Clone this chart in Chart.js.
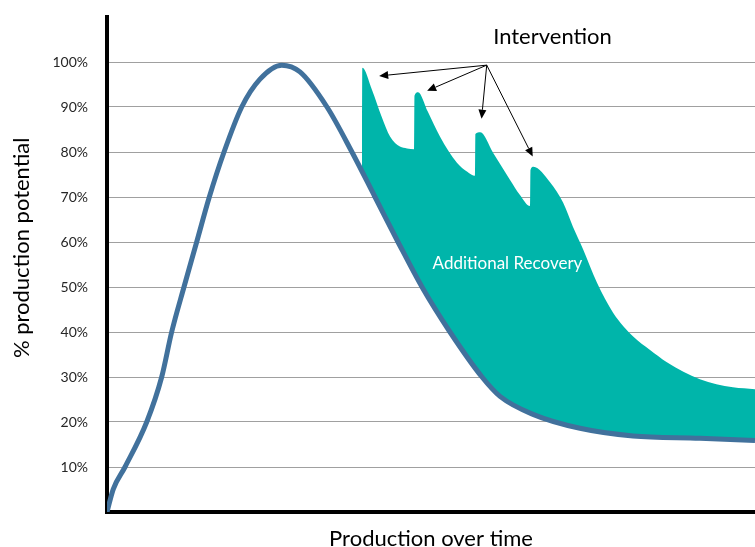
<!DOCTYPE html>
<html lang="en">
<head>
    <meta charset="UTF-8">
    <title>Production potential</title>
    <style>
        body {
            margin: 0;
            background: #fff;
        }

        #wrap {
            width: 755px;
            height: 547px;
        }
    </style>
</head>
<body>
    <div id="wrap"><canvas id="productionChart"></canvas></div>

    <script src="https://cdn.jsdelivr.net/npm/chart.js"></script>
    <script>
        // base decline curve (time 0-100, % of production potential)
        const baseTime = [0, 0.97, 2.78, 6.13, 8.44, 9.98, 11.88, 13.84, 15.79, 18.06, 20.79, 23.61, 26.96, 29.78, 33.95, 37.8, 41.36, 44.91, 48.61, 52.93, 57.87, 60.65, 65.74, 72.99, 81.17, 91.51, 100];
        const basePct = [0, 5.1, 10, 20, 30, 40, 50, 60, 70, 80, 90, 96.2, 99.3, 97.8, 90, 80, 70, 60, 50, 40, 30, 25.7, 21.7, 18.6, 16.9, 16.4, 15.9];

        // curve with the four interventions
        const recTime = [39.35, 39.4, 40.9, 42.4, 43.7, 45.2, 46.3, 47.4,
            47.45, 48.0, 49.5, 51.4, 54.0, 55.6, 56.8,
            56.85, 57.6, 59.6, 62.2, 63.7, 65.3,
            65.35, 65.8, 68.4, 70.4, 71.9, 73.5, 75.6, 78.1, 81.2, 83.8, 86.4, 91.5, 96.6, 100];
        const recPct = [75.7, 98.7, 93.8, 87.8, 83.4, 81.2, 80.8, 80.6,
            92.5, 93.3, 89, 83.4, 77.6, 75.6, 74.7,
            84, 84.4, 79.8, 73.8, 70.5, 68,
            76, 76.7, 73.2, 68.7, 63.4, 58.3, 51, 44.3, 39, 36, 33.3, 29.5, 27.7, 27.3];

        const yTicks = [10, 20, 30, 40, 50, 60, 70, 80, 90, 100];

        // annotation anchors in data units
        const arrowFrom = [58.6, 99.3];
        const arrowTipsTime = [42.0, 49.4, 57.8, 65.7];
        const arrowTipsPct = [96.9, 93.6, 87.4, 79.0];
        const interventionAt = [68.75, 105.5];
        const recoveryAt = [61.8, 55.2];
        const yTitleAt = [-13.1, 58.7];

        const toPoints = (xs, ys) => xs.map((v, i) => ({ x: v, y: ys[i] }));

        const annotations = {
            id: 'annotations',
            afterDatasetsDraw(chart) {
                const { ctx, scales: { x, y } } = chart;
                const fx = x.getPixelForValue(arrowFrom[0]);
                const fy = y.getPixelForValue(arrowFrom[1]);
                ctx.save();
                ctx.strokeStyle = '#000';
                ctx.fillStyle = '#000';
                ctx.lineWidth = 1;
                arrowTipsTime.forEach((t, i) => {
                    const tx = x.getPixelForValue(t);
                    const ty = y.getPixelForValue(arrowTipsPct[i]);
                    const ang = Math.atan2(ty - fy, tx - fx);
                    const len = 9, half = 4;
                    const bx = tx - Math.cos(ang) * len;
                    const by = ty - Math.sin(ang) * len;
                    ctx.beginPath();
                    ctx.moveTo(fx, fy);
                    ctx.lineTo(bx, by);
                    ctx.stroke();
                    ctx.beginPath();
                    ctx.moveTo(tx, ty);
                    ctx.lineTo(bx + Math.sin(ang) * half, by - Math.cos(ang) * half);
                    ctx.lineTo(bx - Math.sin(ang) * half, by + Math.cos(ang) * half);
                    ctx.closePath();
                    ctx.fill();
                });

                ctx.textAlign = 'center';
                ctx.textBaseline = 'middle';
                ctx.font = '22px Lato';
                ctx.fillStyle = '#000';
                ctx.fillText('Intervention', x.getPixelForValue(interventionAt[0]), y.getPixelForValue(interventionAt[1]));
                ctx.font = '17px Lato';
                ctx.fillStyle = '#fff';
                ctx.fillText('Additional Recovery', x.getPixelForValue(recoveryAt[0]), y.getPixelForValue(recoveryAt[1]));

                // y axis title
                ctx.translate(x.getPixelForValue(yTitleAt[0]), y.getPixelForValue(yTitleAt[1]));
                ctx.rotate(-Math.PI / 2);
                ctx.font = '22px Lato';
                ctx.fillStyle = '#000';
                ctx.fillText('% production potential', 0, 0);
                ctx.restore();
            }
        };

        const inRange = (v) => v >= 10 && v <= 100;

        new Chart(document.getElementById('productionChart'), {
            type: 'line',
            data: {
                datasets: [{
                    label: 'Base decline',
                    data: toPoints(baseTime, basePct),
                    borderColor: '#41719c',
                    borderWidth: 5,
                    pointRadius: 0,
                    cubicInterpolationMode: 'monotone',
                    fill: false
                }, {
                    label: 'Additional Recovery',
                    data: toPoints(recTime, recPct),
                    borderWidth: 0,
                    borderColor: 'rgba(0,0,0,0)',
                    backgroundColor: '#00b5aa',
                    pointRadius: 0,
                    cubicInterpolationMode: 'monotone',
                    fill: { target: 0 }
                }]
            },
            options: {
                responsive: true,
                maintainAspectRatio: false,
                animation: false,
                layout: { padding: { top: 17, right: 0, left: 0, bottom: 0 } },
                plugins: {
                    legend: { display: false },
                    tooltip: { enabled: false }
                },
                scales: {
                    x: {
                        type: 'linear',
                        min: 0,
                        max: 100,
                        ticks: { display: false },
                        grid: { display: false },
                        border: { display: true, color: '#000', width: 4 },
                        title: {
                            display: true,
                            text: 'Production over time',
                            color: '#000',
                            font: { family: 'Lato', size: 22, lineHeight: 1 },
                            padding: { top: 0, bottom: -3 }
                        },
                        afterFit: (scale) => { scale.height = 35; }
                    },
                    y: {
                        min: 0,
                        max: 110,
                        afterBuildTicks: (scale) => {
                            scale.ticks = [0, ...yTicks, 110].map(v => ({ value: v }));
                        },
                        ticks: {
                            color: '#262626',
                            font: { family: 'Lato', size: 14 },
                            padding: 19,
                            callback: (v) => inRange(v) ? v + '%' : ''
                        },
                        grid: {
                            drawTicks: false,
                            color: (c) => inRange(c.tick.value) ? '#a0a0a0' : 'rgba(0,0,0,0)',
                            lineWidth: 1
                        },
                        border: { display: true, color: '#000', width: 4 },
                        afterFit: (scale) => {
                            scale.width = 107;
                            scale.paddingTop = 0;
                            scale.paddingBottom = 0;
                        }
                    }
                }
            },
            plugins: [annotations]
        });
    </script>
</body>
</html>
